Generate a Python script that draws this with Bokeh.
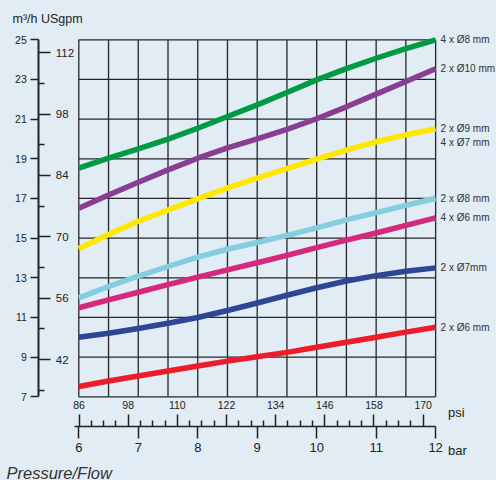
from bokeh.plotting import figure
from bokeh.models import Range1d, LinearAxis, FixedTicker
from bokeh.core.properties import value
from bokeh.embed import file_html
from bokeh.resources import INLINE

# ---------------- data ----------------
bar_points = [6.0, 6.5, 7.0, 7.5, 8.0, 8.5, 9.0, 9.5, 10.0, 10.5, 11.0, 11.5, 12.0]
flow_4x8 = [18.53, 19.03, 19.50, 19.99, 20.54, 21.13, 21.72, 22.34, 22.98, 23.55, 24.07, 24.55, 25.00]
flow_2x10 = [16.51, 17.18, 17.82, 18.44, 19.03, 19.55, 20.00, 20.48, 21.02, 21.62, 22.26, 22.90, 23.54]
flow_2x9 = [14.46, 15.18, 15.85, 16.41, 16.98, 17.53, 18.03, 18.50, 18.98, 19.44, 19.86, 20.21, 20.51]
flow_2x8 = [11.99, 12.56, 13.08, 13.57, 14.04, 14.44, 14.78, 15.14, 15.52, 15.92, 16.29, 16.65, 17.01]
flow_4x6 = [11.49, 11.89, 12.27, 12.66, 13.03, 13.40, 13.76, 14.13, 14.52, 14.90, 15.26, 15.64, 16.02]
flow_2x7 = [10.00, 10.20, 10.44, 10.71, 11.00, 11.35, 11.73, 12.12, 12.50, 12.84, 13.11, 13.33, 13.50]
flow_2x6 = [7.52, 7.80, 8.05, 8.30, 8.55, 8.80, 9.02, 9.24, 9.50, 9.75, 10.00, 10.26, 10.51]

series_names = ["4 x Ø8 mm", "2 x Ø10 mm", "2 x Ø9 mm", "2 x Ø8 mm", "4 x Ø6 mm", "2 x Ø7mm", "2 x Ø6 mm"]
second_name_yellow = "4 x Ø7 mm"

m3h_ticks = [7, 9, 11, 13, 15, 17, 19, 21, 23, 25]
gpm_ticks = [42, 56, 70, 84, 98, 112]
gpm_minor = [35, 49, 63, 77, 91, 105]
bar_ticks = [6, 7, 8, 9, 10, 11, 12]
psi_ticks = [86, 98, 110, 122, 134, 146, 158, 170]
psi_minor = [89, 92, 95, 101, 104, 107, 113, 116, 119, 125, 128, 131,
             137, 140, 143, 149, 152, 155, 161, 164, 167]
grid_bar = [6.0, 6.5, 7.0, 7.5, 8.0, 8.5, 9.0, 9.5, 10.0, 10.5, 11.0, 11.5, 12.0]
grid_m3h = [7, 9, 11, 13, 15, 17, 19, 21, 23, 25]

# ---------------- styling / geometry ----------------
BG = "#e1ecf4"
INK = "#222222"
GRID = "#262626"
FONT = "Liberation Sans"
colors = ["#009a44", "#8a3e93", "#ffe800", "#84cee0", "#d6287f", "#2f4596", "#ee1c2a"]
series = [flow_4x8, flow_2x10, flow_2x9, flow_2x8, flow_4x6, flow_2x7, flow_2x6]

W, H = 496, 480
OX, OY = 0, 0
BAR6_X, PX_PER_BAR = 78.3, 59.47
M25_Y, PX_PER_M = 39.3, 19.833
GPM112_Y, PX_PER_GPM = 52.3, 4.382
PSI86_X, PX_PER_PSI = 78.5, 4.097


def px_to_bar(X):
    return 6 + (X - BAR6_X) / PX_PER_BAR


def px_to_m(Y):
    return 25 - (Y - M25_Y) / PX_PER_M


x0, x1 = px_to_bar(OX), px_to_bar(OX + W)
y1, y0 = px_to_m(OY), px_to_m(OY + H)
g1 = 112 + (GPM112_Y - OY) / PX_PER_GPM
g0 = 112 - (OY + H - GPM112_Y) / PX_PER_GPM
s0 = 86 + (OX - PSI86_X) / PX_PER_PSI
s1 = 86 + (OX + W - PSI86_X) / PX_PER_PSI

Y_AXIS_X = px_to_bar(38.3)      # vertical axis location (bar units)
X_AXIS_Y = px_to_m(426.2)       # horizontal axis location (m3/h units)

p = figure(width=W, height=H, x_range=Range1d(x0, x1), y_range=Range1d(y0, y1),
           x_axis_type=None, y_axis_type=None, toolbar_location=None,
           output_backend="svg", min_border=0, title=None,
           background_fill_color=BG, border_fill_color=BG, outline_line_color=None)
p.extra_y_ranges = {"gpm": Range1d(g0, g1)}
p.extra_x_ranges = {"psi": Range1d(s0, s1)}

common = dict(major_label_text_font=FONT, major_label_text_color=INK,
              major_tick_line_color=INK, minor_tick_line_color=INK,
              major_tick_in=0, minor_tick_in=0)

ax_m = LinearAxis(fixed_location=Y_AXIS_X, ticker=FixedTicker(ticks=m3h_ticks), bounds=(7, 25),
                  axis_line_color=INK, axis_line_width=2, major_tick_out=8,
                  major_tick_line_width=1.5, major_label_standoff=4,
                  major_label_text_font_size="10.5px", **common)
p.add_layout(ax_m, "left")

ax_g = LinearAxis(y_range_name="gpm", fixed_location=Y_AXIS_X,
                  ticker=FixedTicker(ticks=gpm_ticks, minor_ticks=gpm_minor),
                  axis_line_color=None, major_tick_out=12, minor_tick_out=6,
                  major_tick_line_width=1.5, minor_tick_line_width=1.5,
                  major_label_standoff=5, major_label_text_font_size="11.5px", **common)
p.add_layout(ax_g, "right")

ax_b = LinearAxis(fixed_location=X_AXIS_Y, ticker=FixedTicker(ticks=bar_ticks),
                  bounds=(px_to_bar(74), 12), axis_line_color=INK, axis_line_width=1.5,
                  major_tick_out=12, major_tick_line_width=1.5, major_label_standoff=4,
                  major_label_text_font_size="13px", **common)
p.add_layout(ax_b, "below")

ax_p = LinearAxis(x_range_name="psi", fixed_location=X_AXIS_Y,
                  ticker=FixedTicker(ticks=psi_ticks, minor_ticks=psi_minor),
                  axis_line_color=None, major_tick_out=12, minor_tick_out=6,
                  major_tick_line_width=1.5, minor_tick_line_width=1.5,
                  major_label_standoff=6, major_label_text_font_size="10.5px", **common)
p.add_layout(ax_p, "above")

# grid
p.segment(x0=grid_bar, y0=[grid_m3h[0]] * len(grid_bar), x1=grid_bar, y1=[grid_m3h[-1]] * len(grid_bar),
          line_color=GRID, line_width=1.3)
p.segment(x0=[grid_bar[0]] * len(grid_m3h), y0=grid_m3h, x1=[grid_bar[-1]] * len(grid_m3h), y1=grid_m3h,
          line_color=GRID, line_width=1.3)

# curves
for ys, c in zip(series, colors):
    p.line(bar_points, ys, line_color=c, line_width=5.5, line_cap="butt", line_join="round")

# end labels
label_text = series_names[:3] + [second_name_yellow] + series_names[3:]
label_y = [s[-1] for s in series[:3]] + [flow_2x9[-1] - 13.4 / PX_PER_M] + [s[-1] for s in series[3:]]
p.text(x=[bar_points[-1]] * len(label_text), y=label_y, text=label_text, x_offset=5,
       text_baseline="middle", text_align="left", text_font=value(FONT),
       text_font_size="10px", text_color="#333333")

# free texts
p.text(x=[px_to_bar(12)], y=[px_to_m(18.3)], text=["m³/h USgpm"], text_baseline="alphabetic",
       text_font=value(FONT), text_font_size="12.5px", text_color=INK)
p.text(x=[px_to_bar(447.5)], y=[px_to_m(411.5)], text=["psi"], text_baseline="alphabetic",
       text_font=value(FONT), text_font_size="13px", text_color=INK)
p.text(x=[px_to_bar(447.5)], y=[px_to_m(450.3)], text=["bar"], text_baseline="alphabetic",
       text_font=value(FONT), text_font_size="13px", text_color=INK)
p.text(x=[px_to_bar(6)], y=[px_to_m(472)], text=["Pressure/Flow"], text_baseline="alphabetic",
       text_font=value(FONT), text_font_size="16.5px", text_font_style="italic", text_color="#333333")

html = file_html(p, INLINE)
html = html.replace("<body>", '<body style="background-color:%s;">' % BG)
open("out.html", "w").write(html)
